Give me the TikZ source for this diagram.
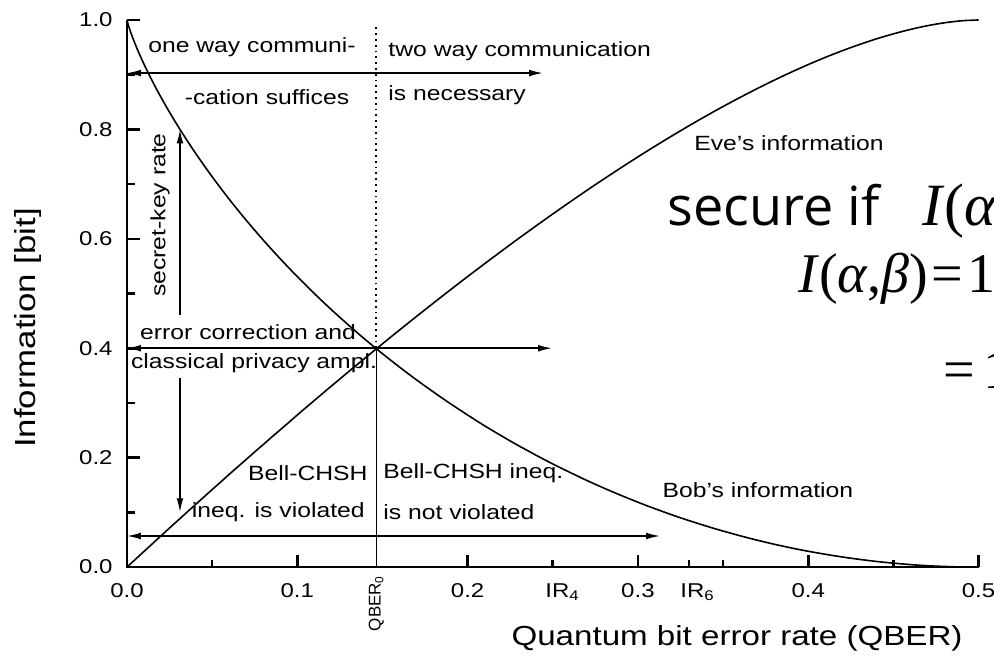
\documentclass[tikz,border=0pt]{standalone}
\usepackage{fontspec}
\setmainfont{Liberation Sans}[FakeStretch=1.2]
\newfontfamily\plainsans{Liberation Sans}
\newfontfamily\overlayfont{Open Sans}
\newfontfamily\formulafont{Liberation Serif}
\usetikzlibrary{arrows.meta}
\usepgflibrary{fpu}

\begin{document}
\begin{tikzpicture}[x=851.5pt, y=273.5pt,
    declare function={hb(\t)=-(\t*ln(\t)+(1-\t)*ln(1-\t))/ln(2);},
    axis/.style={line width=1.3pt},
    curve/.style={line width=0.8pt},
    arr/.style={line width=0.8pt, -{Latex[length=7pt,width=3.4pt]}},
    darr/.style={line width=0.8pt, {Latex[length=7pt,width=3.4pt]}-{Latex[length=7pt,width=3.4pt]}},
    lbl/.style={inner sep=0pt, font=\fontsize{10.3}{12}\selectfont},
    ticklbl/.style={inner sep=0pt, font=\fontsize{10}{12}\selectfont},
    big/.style={inner sep=0pt, anchor=base west, font=\formulafont\fontsize{28}{32}\selectfont}]

    % Frame of the picture (cuts the overlay text at the right)
    \clip (-0.07457,-0.16819) rectangle (0.50910,1.03656);

    % Axes
    \draw[axis] (0,1) -- (0,0) -- (0.5,0);
    \foreach \v in {0.0,0.2,0.4,0.6,0.8,1.0} {
        \draw[axis] (0,\v) -- ++(6.5pt,0);
        \node[ticklbl, anchor=east] (y\v) at ([xshift=-7pt]0,\v) {\v};
    }
    \foreach \v in {0.1,0.3,0.5,0.7,0.9}
        \draw[axis] (0,\v) -- ++(4pt,0);
    \foreach \v in {0.0,0.1,0.2,0.3,0.4,0.5} {
        \draw[axis] (\v,0) -- ++(0,6pt);
        \node[ticklbl, anchor=north] (x\v) at ([yshift=-8pt]\v,0) {\v};
    }
    \foreach \v in {0.05,0.25,0.35,0.45,0.33}
        \draw[axis] (\v,0) -- ++(0,3.5pt);

    % Marks IR_4, IR_6 and QBER_0 on the x axis
    \node[ticklbl, anchor=north west] (ir4) at ([yshift=-8pt]0.2454,0) {IR\textsubscript{4}};
    \node[ticklbl, anchor=north west] (ir6) at ([yshift=-8pt]0.3247,0) {IR\textsubscript{6}};
    \node[inner sep=0pt, rotate=90, anchor=east, font=\plainsans\fontsize{8.5}{10}\selectfont]
        (q0) at ([yshift=-4pt]0.1464,0) {QBER\textsubscript{0}};

    % Axis titles
    \node[inner sep=0pt, font=\fontsize{13.8}{16}\selectfont] (xlab) at (0.3582,-0.1298)
        {Quantum bit error rate (QBER)};
    \node[inner sep=0pt, rotate=90, font=\fontsize{14.5}{16}\selectfont] (ylab) at (-0.0581,0.4369)
        {Information [bit]};

    % Bob's 1-h(Q) and Eve's 1-h(1/2-sqrt(Q(1-Q))), with Q=(1-cos t)/2
    % (points computed with the fpu, the plain ln is not precise enough)
    \gdef\bobpts{(0,1)}
    \gdef\evepts{(0,0)}
    \foreach \t in {1,...,89} {
        \pgfkeys{/pgf/fpu=true, /pgf/fpu/output format=fixed}
        \pgfmathsetmacro\qx{(1-cos(\t))/2}
        \pgfmathsetmacro\by{1-hb(\qx)}
        \pgfmathsetmacro\ey{1-hb((1-sin(\t))/2)}
        \xdef\bobpts{\bobpts (\qx,\by)}
        \xdef\evepts{\evepts (\qx,\ey)}
    }
    \edef\drawcurves{
        \noexpand\draw[curve] plot[smooth] coordinates {\bobpts (0.5,0)};
        \noexpand\draw[curve] plot[smooth] coordinates {\evepts (0.5,1)};
    }
    \drawcurves

    % Crossing at QBER_0
    \coordinate (cross) at (0.1464,0.4);
    \coordinate (dotTop) at (0.1464,0.99);
    \coordinate (q0Foot) at (0.1464,0);
    \draw[line width=0.9pt, dotted] (cross) -- (dotTop);
    \draw[line width=0.8pt] (cross) -- (q0Foot);

    % Arrows
    \coordinate (oneL) at (0,0.903);     \coordinate (oneR) at (0.2443,0.903);
    \coordinate (ecL) at (0,0.4);        \coordinate (ecR) at (0.2496,0.4);
    \coordinate (bellL) at (0,0.0567);   \coordinate (bellR) at (0.313,0.0567);
    \coordinate (keyB) at (0.0311,0.4607); \coordinate (keyT) at (0.0311,0.80);
    \coordinate (ecT) at (0.0311,0.345); \coordinate (ecB) at (0.0311,0.10);
    \draw[darr] (oneL) -- (oneR);
    \draw[darr] (ecL) -- (ecR);
    \draw[darr] (bellL) -- (bellR);
    \draw[arr] (keyB) -- (keyT);
    \draw[arr] (ecT) -- (ecB);

    % Region labels
    \node[lbl] (one1) at (0.0734,0.9506) {one way communi-};
    \node[lbl] (one2) at (0.0822,0.8592) {-cation suffices};
    \node[lbl, anchor=west] (two1) at (0.1533,0.9433) {two way communication};
    \node[lbl, anchor=west] (two2) at (0.1533,0.8629) {is necessary};
    \node[lbl, rotate=90] (key) at (0.0194,0.6435) {secret-key rate};
    \node[lbl] (ec1) at (0.0711,0.4296) {error correction and};
    \node[lbl] (ec2) at (0.0746,0.3729) {classical privacy ampl.};
    \node[lbl, anchor=east] (bell1) at (0.1415,0.1718) {Bell-CHSH};
    \node[lbl, anchor=east] (bell2) at (0.1398,0.1005) {ineq. is violated};
    \node[lbl, anchor=west] (bell3) at (0.1503,0.1718) {Bell-CHSH ineq.};
    \node[lbl, anchor=west] (bell4) at (0.1503,0.1005) {is not violated};
    \node[lbl] (eve) at (0.3887,0.7751) {Eve's information};
    \node[lbl] (bob) at (0.3705,0.1408) {Bob's information};

    % Overlay text
    \node[inner sep=0pt, anchor=base west, font=\overlayfont\fontsize{27}{30}\selectfont]
        (secure) at (0.3171,0.6252) {secure if};
    \node[big, font=\formulafont\fontsize{30}{34}\selectfont] (iab) at (0.4668,0.6252) {\textit{I}(\textit{α}};
    \node[big] (row2) at (0.3940,0.5010) {\textit{I}(\textit{α},\textit{β})\hspace{2pt}=\hspace{2pt}1};
    \node[big] (row3) at (0.4792,0.3270) {=\hspace{4pt}1};
\end{tikzpicture}
\end{document}
